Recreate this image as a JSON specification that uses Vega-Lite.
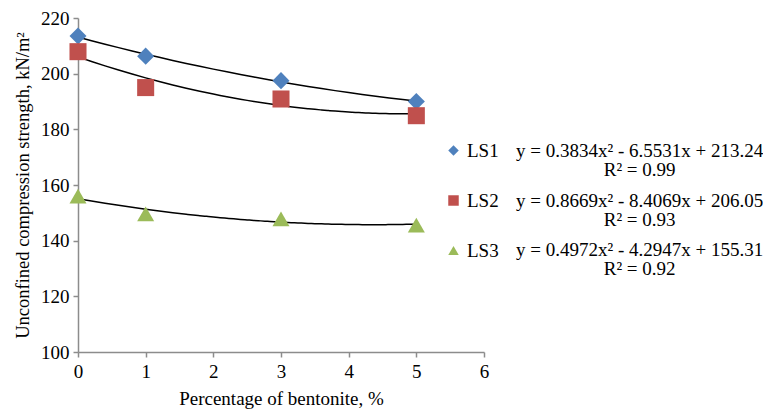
{
  "$schema": "https://vega.github.io/schema/vega-lite/v6.json",
  "width": 406,
  "height": 334,
  "autosize": "none",
  "padding": {"left": 78, "top": 18, "right": 279, "bottom": 59},
  "background": "white",
  "config": {
    "font": "Liberation Serif",
    "view": {"stroke": null},
    "axis": {
      "domainColor": "#8c8c8c",
      "tickColor": "#8c8c8c",
      "grid": false,
      "labelFont": "Liberation Serif",
      "titleFont": "Liberation Serif",
      "labelColor": "black",
      "titleColor": "black",
      "titleFontWeight": "normal",
      "tickSize": 5,
      "domainWidth": 1.5,
      "tickWidth": 1.5,
      "labelFlush": false
    }
  },
  "data": {
    "values": [
      {"bentonite": 0, "strength": 213.5, "series": "LS1"},
      {"bentonite": 1, "strength": 206.3, "series": "LS1"},
      {"bentonite": 3, "strength": 197.5, "series": "LS1"},
      {"bentonite": 5, "strength": 190.0, "series": "LS1"},
      {"bentonite": 0, "strength": 207.9, "series": "LS2"},
      {"bentonite": 1, "strength": 195.0, "series": "LS2"},
      {"bentonite": 3, "strength": 190.9, "series": "LS2"},
      {"bentonite": 5, "strength": 184.9, "series": "LS2"},
      {"bentonite": 0, "strength": 156.0, "series": "LS3"},
      {"bentonite": 1, "strength": 149.6, "series": "LS3"},
      {"bentonite": 3, "strength": 147.8, "series": "LS3"},
      {"bentonite": 5, "strength": 145.6, "series": "LS3"}
    ]
  },
  "layer": [
    {
      "transform": [
        {"regression": "strength", "on": "bentonite", "groupby": ["series"], "method": "poly", "order": 2, "extent": [0, 5]}
      ],
      "mark": {"type": "line", "color": "black", "strokeWidth": 1.5, "interpolate": "monotone"},
      "encoding": {
        "x": {"field": "bentonite", "type": "quantitative"},
        "y": {"field": "strength", "type": "quantitative"},
        "detail": {"field": "series"}
      }
    },
    {
      "mark": {"type": "point", "filled": true, "opacity": 1, "size": 290},
      "encoding": {
        "x": {
          "field": "bentonite", "type": "quantitative",
          "scale": {"domain": [0, 6], "nice": false, "zero": false},
          "axis": {"values": [0, 1, 2, 3, 4, 5, 6], "format": "d", "title": "Percentage of bentonite, %", "titlePadding": 8, "labelPadding": 5, "labelFont": "Liberation Serif", "labelFontSize": 19, "titleFont": "Liberation Serif", "titleFontSize": 19, "labelFlush": false}
        },
        "y": {
          "field": "strength", "type": "quantitative",
          "scale": {"domain": [100, 220], "nice": false, "zero": false},
          "axis": {"values": [100, 120, 140, 160, 180, 200, 220], "format": "d", "title": "Unconfined compression strength, kN/m²", "titlePadding": 8, "labelPadding": 4, "labelFont": "Liberation Serif", "labelFontSize": 19, "titleFont": "Liberation Serif", "titleFontSize": 18.5, "labelFlush": false}
        },
        "color": {
          "field": "series", "type": "nominal",
          "scale": {"domain": ["LS1", "LS2", "LS3"], "range": ["#4F81BD", "#C0504D", "#9BBB59"]},
          "legend": {
            "orient": "none", "legendX": 366, "legendY": 123, "title": null,
            "labelFont": "Liberation Serif", "labelFontSize": 19, "labelColor": "black",
            "symbolSize": 110, "rowPadding": 30, "labelOffset": 4, "symbolOpacity": 1
          }
        },
        "shape": {
          "field": "series", "type": "nominal",
          "scale": {"domain": ["LS1", "LS2", "LS3"], "range": ["diamond", "square", "triangle-up"]},
          "legend": null
        }
      }
    },
    {
      "data": {"values": [{"eq": "LS1"}]},
      "mark": {"type": "text", "text": ["y = 0.3834x² - 6.5531x + 213.24", "R² = 0.99"], "font": "Liberation Serif", "fontWeight": "normal", "fontSize": 19, "align": "center", "baseline": "middle", "lineHeight": 19, "clip": false},
      "encoding": {"x": {"datum": 8.3}, "y": {"datum": 172.2}}
    },
    {
      "data": {"values": [{"eq": "LS2"}]},
      "mark": {"type": "text", "text": ["y = 0.8669x² - 8.4069x + 206.05", "R² = 0.93"], "font": "Liberation Serif", "fontWeight": "normal", "fontSize": 19, "align": "center", "baseline": "middle", "lineHeight": 19, "clip": false},
      "encoding": {"x": {"datum": 8.3}, "y": {"datum": 154.2}}
    },
    {
      "data": {"values": [{"eq": "LS3"}]},
      "mark": {"type": "text", "text": ["y = 0.4972x² - 4.2947x + 155.31", "R² = 0.92"], "font": "Liberation Serif", "fontWeight": "normal", "fontSize": 19, "align": "center", "baseline": "middle", "lineHeight": 19, "clip": false},
      "encoding": {"x": {"datum": 8.3}, "y": {"datum": 136.6}}
    }
  ]
}
